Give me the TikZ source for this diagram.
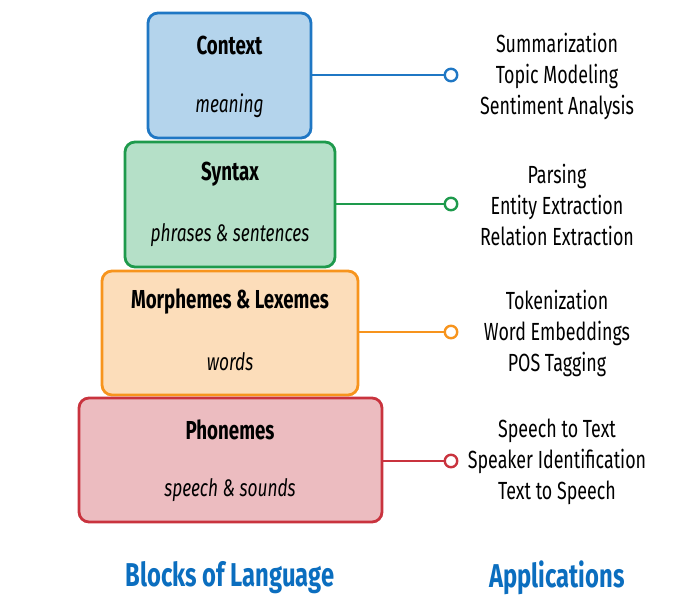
\documentclass[tikz,border=0pt]{standalone}
\usepackage{fontspec}
\setmainfont{Fira Sans}[FakeStretch=0.72]
\usetikzlibrary{positioning}
\definecolor{ctxline}{HTML}{1F77C4}
\definecolor{ctxfill}{HTML}{B4D4EC}
\definecolor{synline}{HTML}{1E9A4C}
\definecolor{synfill}{HTML}{B5E0C8}
\definecolor{morline}{HTML}{F7941D}
\definecolor{morfill}{HTML}{FCDDBA}
\definecolor{pholine}{HTML}{C9333E}
\definecolor{phofill}{HTML}{ECBCC0}
\definecolor{headblue}{HTML}{0B6EBF}
\tikzset{
  block/.style={draw, line width=2.8pt, rounded corners=10pt},
  blocktitle/.style={font=\fontsize{26}{30}\selectfont\bfseries},
  blocksub/.style={font=\fontsize{24}{30}\selectfont\itshape},
  applist/.style={align=center, font=\fontsize{24.8}{31}\selectfont},
  link/.style={line width=2.8pt},
  endring/.style={circle, draw, line width=2.4pt, fill=white, minimum size=12.5pt, inner sep=0pt},
  heading/.style={font=\fontsize{33}{40}\selectfont\bfseries, text=headblue}
}
\begin{document}
\begin{tikzpicture}[x=1pt,y=-1pt]
\useasboundingbox (0,0) rectangle (682,600);

% stacked blocks, narrowest on top
\draw[block, draw=ctxline, fill=ctxfill] (148,13) rectangle (311,138);
\coordinate (ctxR) at (311,75);
\node[blocktitle] (ctxT) at (229.5,45) {Context};
\node[blocksub] (ctxS) at (229.5,106) {meaning};

\draw[block, draw=synline, fill=synfill] (125,142) rectangle (335,267);
\coordinate (synR) at (335,204);
\node[blocktitle] (synT) at (230,174) {Syntax};
\node[blocksub] (synS) at (230,235) {phrases \& sentences};

\draw[block, draw=morline, fill=morfill] (102,271) rectangle (358,395);
\coordinate (morR) at (358,332);
\node[blocktitle] (morT) at (230,302) {Morphemes \& Lexemes};
\node[blocksub] (morS) at (230,362) {words};

\draw[block, draw=pholine, fill=phofill] (79,398) rectangle (382,522);
\coordinate (phoR) at (382,461);
\node[blocktitle] (phoT) at (230,430) {Phonemes};
\node[blocksub] (phoS) at (230,490) {speech \& sounds};

% connectors ending in open rings
\node[endring, draw=ctxline] (ctxE) at (451,75) {};
\node[endring, draw=synline] (synE) at (451,204) {};
\node[endring, draw=morline] (morE) at (451,332) {};
\node[endring, draw=pholine] (phoE) at (451,461) {};
\draw[link, ctxline] (ctxR) -- (ctxE);
\draw[link, synline] (synR) -- (synE);
\draw[link, morline] (morR) -- (morE);
\draw[link, pholine] (phoR) -- (phoE);

% applications of each block
\node[applist] (ctxA) at (557,76) {Summarization\\Topic Modeling\\Sentiment Analysis};
\node[applist] (synA) at (557,205) {Parsing\\Entity Extraction\\Relation Extraction};
\node[applist] (morA) at (557,333) {Tokenization\\Word Embeddings\\POS Tagging};
\node[applist] (phoA) at (557,462) {Speech to Text\\Speaker Identification\\Text to Speech};

% column headings
\node[heading] (hBlocks) at (230,578) {Blocks of Language};
\node[heading] (hApps) at (557,578) {Applications};
\end{tikzpicture}
\end{document}
